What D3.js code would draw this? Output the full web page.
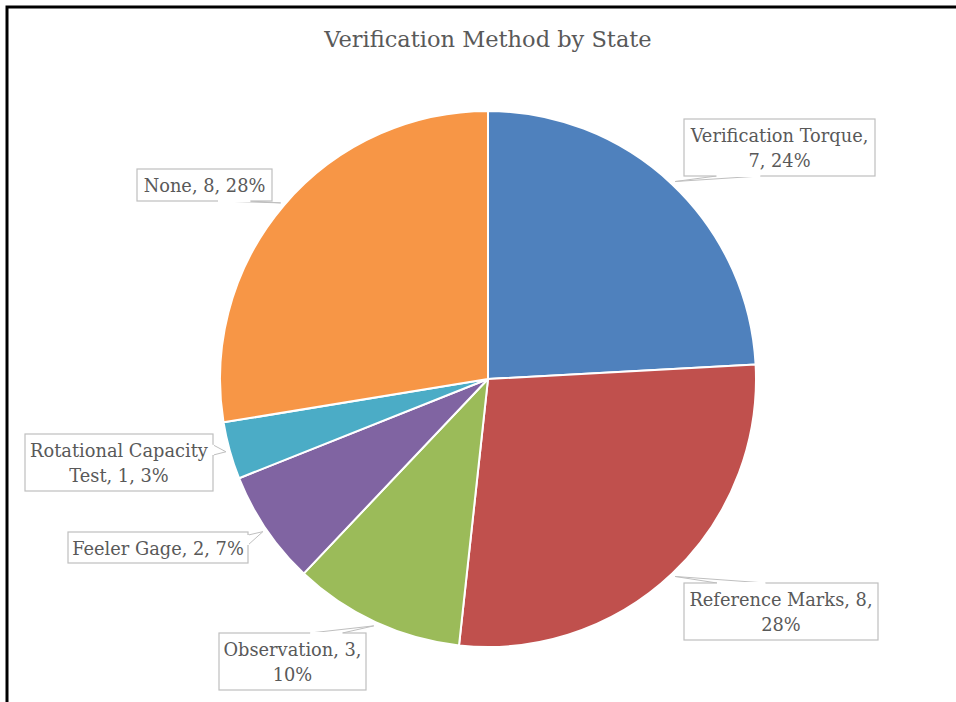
<!DOCTYPE html>
<html>
<head>
<meta charset="utf-8">
<script src="https://cdn.jsdelivr.net/npm/d3@7"></script>
<style>
  html, body { margin: 0; padding: 0; background: #fff; }
  svg { display: block; }
</style>
</head>
<body>
<svg id="chart" width="956" height="702"></svg>
<script>
// ---- data ----
const categories = ["Verification Torque", "Reference Marks", "Observation", "Feeler Gage", "Rotational Capacity Test", "None"];
const values = [7, 8, 3, 2, 1, 8];
const colors = ["#4F81BD", "#C0504D", "#9BBB59", "#8064A2", "#4BACC6", "#F79646"];
const labelLines = [
  ["Verification Torque,", "7, 24%"],
  ["Reference Marks, 8,", "28%"],
  ["Observation, 3,", "10%"],
  ["Feeler Gage, 2, 7%"],
  ["Rotational Capacity", "Test, 1, 3%"],
  ["None, 8, 28%"]
];
const title = "Verification Method by State";

// ---- layout (label boxes: x, y, w, h, pointer side, base fractions) ----
const boxes = [
  {x: 684, y: 119, w: 191, h: 57, side: "bottom", f: [0.17, 0.40]},
  {x: 684, y: 583, w: 194, h: 57, side: "top", f: [0.17, 0.42]},
  {x: 219, y: 633, w: 147, h: 57, side: "top", f: [0.62, 0.84]},
  {x: 68, y: 532, w: 180, h: 31, side: "right", f: [0.10, 0.42]},
  {x: 25, y: 434, w: 188, h: 57, side: "right", f: [0.19, 0.37]},
  {x: 137, y: 169, w: 135, h: 32, side: "bottom", f: [0.60, 0.84]}
];

const FONT = "'DejaVu Serif', 'Liberation Serif', 'Noto Serif', serif";
const W = 956, H = 702;
const cx = 488, cy = 379, R = 268;
const svg = d3.select("#chart");

svg.append("rect").attr("x", 7).attr("y", 7).attr("width", W + 20).attr("height", H + 20)
  .attr("fill", "#fff").attr("stroke", "#000").attr("stroke-width", 3);

svg.append("text").attr("x", cx).attr("y", 47).attr("text-anchor", "middle")
  .attr("font-family", FONT).attr("font-size", 22.5).attr("fill", "#595959").text(title);

const data = categories.map((c, i) => ({cat: c, value: values[i], color: colors[i], lines: labelLines[i], box: boxes[i]}));
const pie = d3.pie().value(d => d.value).sort(null);
const arcs = pie(data);
const arc = d3.arc().innerRadius(0).outerRadius(R);

const g = svg.append("g").attr("transform", `translate(${cx},${cy})`);
g.selectAll("path.slice").data(arcs).enter().append("path")
  .attr("class", "slice")
  .attr("d", arc)
  .attr("fill", d => d.data.color)
  .attr("stroke", "#fff").attr("stroke-width", 2).attr("stroke-linejoin", "round");

const tipR = R + 4;
const lab = svg.append("g");
arcs.forEach(a => {
  const b = a.data.box;
  const mid = (a.startAngle + a.endAngle) / 2;
  const tx = cx + tipR * Math.sin(mid), ty = cy - tipR * Math.cos(mid);
  let p1, p2;
  if (b.side === "bottom") { p1 = [b.x + b.f[0] * b.w, b.y + b.h]; p2 = [b.x + b.f[1] * b.w, b.y + b.h]; }
  else if (b.side === "top") { p1 = [b.x + b.f[0] * b.w, b.y]; p2 = [b.x + b.f[1] * b.w, b.y]; }
  else if (b.side === "right") { p1 = [b.x + b.w, b.y + b.f[0] * b.h]; p2 = [b.x + b.w, b.y + b.f[1] * b.h]; }
  else { p1 = [b.x, b.y + b.f[0] * b.h]; p2 = [b.x, b.y + b.f[1] * b.h]; }
  lab.append("path")
    .attr("d", `M${p1[0]},${p1[1]}L${tx},${ty}L${p2[0]},${p2[1]}Z`)
    .attr("fill", "#fff").attr("stroke", "#BFBFBF").attr("stroke-width", 1);
  lab.append("rect").attr("x", b.x).attr("y", b.y).attr("width", b.w).attr("height", b.h)
    .attr("fill", "#fff").attr("stroke", "#BFBFBF").attr("stroke-width", 1.2);
  lab.append("line").attr("x1", p1[0]).attr("y1", p1[1]).attr("x2", p2[0]).attr("y2", p2[1])
    .attr("stroke", "#fff").attr("stroke-width", 2);
  const n = a.data.lines.length;
  const lh = 25;
  const firstBase = b.y + b.h / 2 - (n - 1) * lh / 2 + 7;
  const t = lab.append("text").attr("text-anchor", "middle")
    .attr("font-family", FONT).attr("font-size", 17.8).attr("fill", "#595959");
  a.data.lines.forEach((ln, i) => {
    t.append("tspan").attr("x", b.x + b.w / 2).attr("y", firstBase + i * lh).text(ln);
  });
});
</script>
</body>
</html>
